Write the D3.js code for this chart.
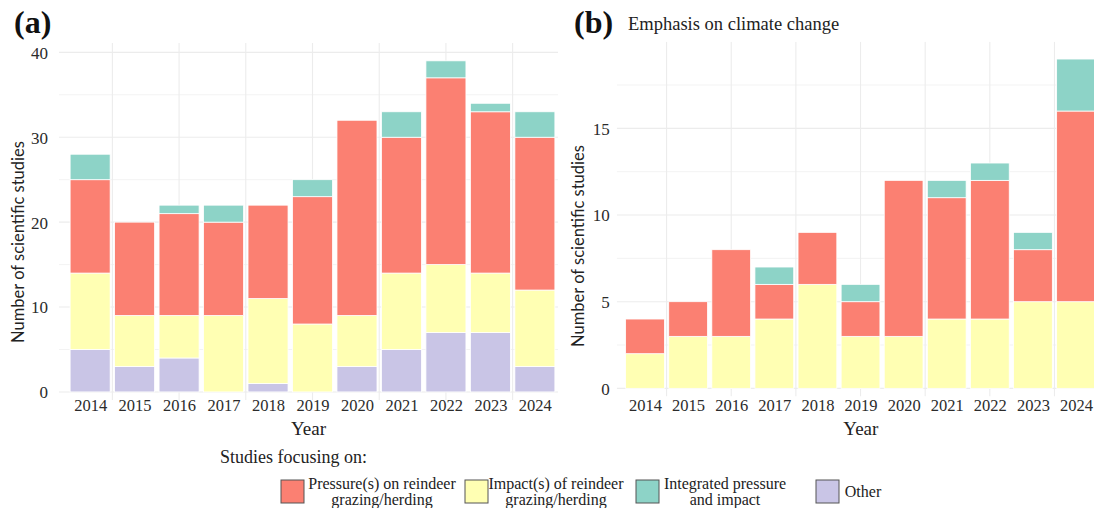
<!DOCTYPE html>
<html>
<head>
<meta charset="utf-8">
<script src="https://cdn.jsdelivr.net/npm/d3@7"></script>
<style>
  html, body { margin: 0; padding: 0; background: #fff; }
  svg { display: block; }
</style>
</head>
<body>
<svg id="chart" width="1094" height="508"></svg>
<script>
// Publication years shown on the x axis
const years = [2014, 2015, 2016, 2017, 2018, 2019, 2020, 2021, 2022, 2023, 2024];

// (a) all studies, counts per focus category
const allOther      = [5, 3, 4, 0, 1, 0, 3, 5, 7, 7, 3];
const allImpact     = [9, 6, 5, 9, 10, 8, 6, 9, 8, 7, 9];
const allPressure   = [11, 11, 12, 11, 11, 15, 23, 16, 22, 19, 18];
const allIntegrated = [3, 0, 1, 2, 0, 2, 0, 3, 2, 1, 3];

// (b) studies with an emphasis on climate change
const climOther      = [0, 0, 0, 0, 0, 0, 0, 0, 0, 0, 0];
const climImpact     = [2, 3, 3, 4, 6, 3, 3, 4, 4, 5, 5];
const climPressure   = [2, 2, 5, 2, 3, 2, 9, 7, 8, 3, 11];
const climIntegrated = [0, 0, 0, 1, 0, 1, 0, 1, 1, 1, 3];

// Tick values
const ticksA = [0, 10, 20, 30, 40];
const ticksB = [0, 5, 10, 15];

// Legend
const legendTitle = "Studies focusing on:";
const categoryKeys = ["other", "impact", "pressure", "integrated"]; // stacking order, bottom to top
const legendOrder = ["pressure", "impact", "integrated", "other"];
const legendLabels = {
  pressure: ["Pressure(s) on reindeer", "grazing/herding"],
  impact: ["Impact(s) of reindeer", "grazing/herding"],
  integrated: ["Integrated pressure", "and impact"],
  other: ["Other"]
};
const colors = {
  pressure: "#fb8072",
  impact: "#ffffb3",
  integrated: "#8dd3c7",
  other: "#c9c5e6"
};

const serif = "'Liberation Serif', 'DejaVu Serif', serif";
const sans = "Lato, 'Open Sans', sans-serif";
const svg = d3.select("#chart");

function buildRows(other, impact, pressure, integrated) {
  return years.map((y, i) => ({
    year: y, other: other[i], impact: impact[i], pressure: pressure[i], integrated: integrated[i]
  }));
}

function drawPanel(cfg) {
  const rows = buildRows(...cfg.series);
  const stack = d3.stack().keys(categoryKeys)(rows);

  const x = d3.scaleLinear().domain(cfg.xDomain).range([cfg.left, cfg.right]);
  const y = d3.scaleLinear().domain(cfg.yDomain).range([cfg.bottom, cfg.top]);
  const bw = 0.9 * (x(1) - x(0));

  const g = svg.append("g");

  // clip to the panel
  const clipId = "clip-" + cfg.id;
  svg.append("clipPath").attr("id", clipId)
    .append("rect").attr("x", cfg.left).attr("y", cfg.top)
    .attr("width", cfg.right - cfg.left).attr("height", cfg.bottom - cfg.top);

  const grid = g.append("g").attr("clip-path", `url(#${clipId})`);
  // minor horizontal grid
  grid.selectAll("line.hmin").data(cfg.minorY).join("line")
    .attr("x1", cfg.left).attr("x2", cfg.right)
    .attr("y1", d => y(d)).attr("y2", d => y(d))
    .attr("stroke", "#f3f3f3").attr("stroke-width", 1);
  // major horizontal grid
  grid.selectAll("line.hmaj").data(cfg.ticks).join("line")
    .attr("x1", cfg.left).attr("x2", cfg.right)
    .attr("y1", d => y(d)).attr("y2", d => y(d))
    .attr("stroke", "#ececec").attr("stroke-width", 1.1);
  // vertical grid
  grid.selectAll("line.v").data(cfg.vGrid).join("line")
    .attr("x1", d => x(d)).attr("x2", d => x(d))
    .attr("y1", cfg.top).attr("y2", cfg.bottom)
    .attr("stroke", "#ececec").attr("stroke-width", 1.1);

  // stacked bars
  const bars = g.append("g");
  stack.forEach(layer => {
    bars.selectAll(null).data(layer.filter(d => d[1] - d[0] > 0)).join("rect")
      .attr("x", d => x(d.data.year) - bw / 2)
      .attr("width", bw)
      .attr("y", d => y(d[1]))
      .attr("height", d => y(d[0]) - y(d[1]))
      .attr("fill", colors[layer.key])
      .attr("stroke", "#ffffff")
      .attr("stroke-width", 0.8);
  });

  // y axis
  const yAxis = d3.axisLeft(y).tickValues(cfg.ticks).tickSize(0).tickPadding(cfg.yPad);
  const ya = g.append("g").attr("transform", `translate(${cfg.left},0)`).call(yAxis);
  ya.select(".domain").remove();
  ya.selectAll("text").attr("font-family", serif).attr("font-size", 17).attr("fill", "#2b2b2b").attr("dy", "0.35em");

  // x axis
  const xAxis = d3.axisBottom(x).tickValues(years).tickFormat(d3.format("d")).tickSize(0).tickPadding(0);
  const xa = g.append("g").attr("transform", `translate(0,${cfg.xLabelY})`).call(xAxis);
  xa.select(".domain").remove();
  xa.selectAll("text").attr("font-family", serif).attr("font-size", 16.5).attr("fill", "#2b2b2b").attr("dy", "0.35em");

  // axis titles
  g.append("text")
    .attr("x", (cfg.left + cfg.xTitleRight) / 2).attr("y", 428).attr("dy", "0.35em")
    .attr("text-anchor", "middle").attr("font-family", serif).attr("font-size", 19).attr("fill", "#222")
    .text("Year");
  g.append("text")
    .attr("transform", `translate(${cfg.yTitleX},${cfg.yTitleY}) rotate(-90)`)
    .attr("text-anchor", "middle").attr("dy", "0.35em")
    .attr("font-family", sans).attr("font-size", 16.5).attr("fill", "#222")
    .text("Number of scientific studies");

  // panel tag
  g.append("text").attr("x", cfg.tagX).attr("y", 33)
    .attr("font-family", serif).attr("font-weight", "bold").attr("font-size", 32).attr("fill", "#111")
    .text(cfg.tag);
  if (cfg.subtitle) {
    g.append("text").attr("x", cfg.subtitleX).attr("y", 30)
      .attr("font-family", serif).attr("font-size", 18.5).attr("fill", "#222")
      .text(cfg.subtitle);
  }
}

drawPanel({
  id: "a", tag: "(a)", tagX: 14,
  series: [allOther, allImpact, allPressure, allIntegrated],
  xDomain: [2013.3, 2024.52], left: 59, right: 558,
  yDomain: [-0.95, 41.1], top: 43, bottom: 400,
  ticks: ticksA, minorY: [5, 15, 25, 35],
  vGrid: [2014.5, 2016, 2017.5, 2019, 2020.5, 2022, 2023.5],
  yPad: 11, xLabelY: 405, xTitleRight: 558,
  yTitleX: 18, yTitleY: 242
});

drawPanel({
  id: "b", tag: "(b)", tagX: 574, subtitle: "Emphasis on climate change", subtitleX: 628,
  series: [climOther, climImpact, climPressure, climIntegrated],
  xDomain: [2013.343, 2024.6], left: 616.7, right: 1101.9,
  yDomain: [-0.47, 20.0], top: 41.7, bottom: 396.5,
  ticks: ticksB, minorY: [2.5, 7.5, 12.5, 17.5],
  vGrid: [2014.5, 2016, 2017.5, 2019, 2020.5, 2022, 2023.5],
  yPad: 7, xLabelY: 405, xTitleRight: 1105,
  yTitleX: 578, yTitleY: 246
});

// Legend
const lg = svg.append("g");
lg.append("text").attr("x", 220).attr("y", 457).attr("dy", "0.35em")
  .attr("font-family", serif).attr("font-size", 18).attr("fill", "#222")
  .text(legendTitle);

const keyX = { pressure: 281, impact: 465, integrated: 636, other: 816 };
const textCx = { pressure: 382, impact: 556, integrated: 725, other: 863 };
legendOrder.forEach(k => {
  lg.append("rect").attr("x", keyX[k]).attr("y", 480).attr("width", 23).attr("height", 23)
    .attr("fill", colors[k]).attr("stroke", "#555").attr("stroke-width", 1);
  const lines = legendLabels[k];
  const t = lg.append("text").attr("text-anchor", "middle")
    .attr("font-family", serif).attr("font-size", 16).attr("fill", "#222");
  if (lines.length === 1) {
    t.append("tspan").attr("x", textCx[k]).attr("y", 491.5).attr("dy", "0.35em").text(lines[0]);
  } else {
    lines.forEach((ln, i) => {
      t.append("tspan").attr("x", textCx[k]).attr("y", 483 + i * 16.5).attr("dy", "0.35em").text(ln);
    });
  }
});
</script>
</body>
</html>
